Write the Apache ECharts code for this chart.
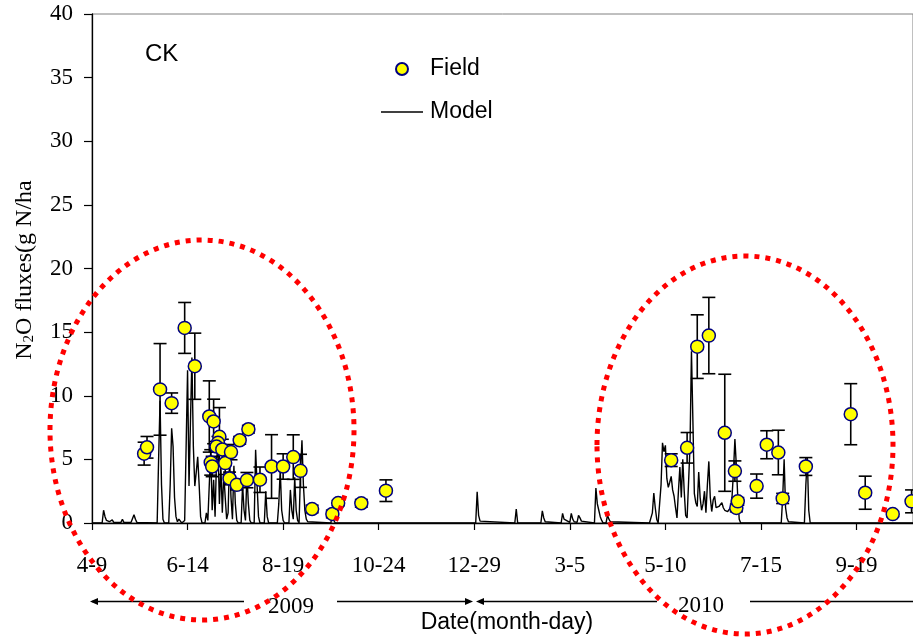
<!DOCTYPE html>
<html><head><meta charset="utf-8">
<script src="https://cdn.jsdelivr.net/npm/echarts@6/dist/echarts.min.js"></script>
<style>html,body{margin:0;padding:0;background:#fff}#c{width:913px;height:640px}</style>
</head><body><div id="c"></div>
<script>
// x axis: days since 2009-04-09, ticks every 66 days
const tickStep = 66;
const tickLabels = ['4-9','6-14','8-19','10-24','12-29','3-5','5-10','7-15','9-19'];

// Field observations (day, mean, error half-width)
const fieldDays   = [36, 38, 47, 55, 64, 71, 81, 84, 88, 87, 86, 90, 82, 83, 92, 95, 96, 100, 102, 107, 108, 116, 124, 132, 139, 144, 152, 166, 170, 186, 203,
                     400, 411, 418, 426, 437, 444, 445, 446, 459, 466, 474, 477, 493, 524, 534, 553, 566];
const fieldValues = [5.45, 5.95, 10.5, 9.42, 15.33, 12.32, 8.37, 7.98, 6.77, 6.3, 6.01, 5.78, 4.76, 4.44, 4.71, 3.5, 5.57, 3.0, 6.5, 3.37, 7.37, 3.4, 4.44, 4.44, 5.18, 4.1, 1.1, 0.71, 1.57, 1.55, 2.54,
                     4.94, 5.91, 13.86, 14.73, 7.09, 4.08, 1.18, 1.7, 2.9, 6.15, 5.54, 1.93, 4.44, 8.55, 2.38, 0.7, 1.7];
const fieldErrors = [0.9, 0.85, 3.6, 0.8, 2.0, 2.6, 2.8, 1.75, 2.3, 0.5, 0.4, 0.8, 1.0, 0.8, 0.9, 0.5, 0.6, 0.4, 0.3, 0.6, 0.3, 1.0, 2.5, 1.0, 1.75, 1.3, 0.3, 0.3, 0.2, 0.3, 0.85,
                     0.5, 1.2, 2.5, 3.0, 4.6, 0.8, 0.3, 0.3, 0.95, 1.1, 1.75, 0.4, 0.7, 2.4, 1.3, 0.2, 0.9];

// Model output vertices (day, flux)
const modelDays = [0,7,8,9,10,11,12,14,15,20,21,22,27,29,30,31,32,
  45,46,47,48,49,50,53,54,55,56,57,58,59,60,61,62,
  63,64,65,66,67,68,69,70,71,72,73,74,75,76,
  78,79,80,81,82,83,84,85,86,87,88,89,90,91,92,93,94,95,96,97,98,99,100,101,103,104,105,106,107,108,109,110,112,113,114,115,116,119,120,121,122,128,129,130,131,132,133,136,137,138,139,140,141,142,143,144,145,146,147,148,149,150,
  165,166,167,168,175,176,177,200,201,202,
  265,266,267,268,269,292,293,294,310,311,312,313,314,324,325,326,327,330,331,332,333,335,336,337,338,339,347,348,349,350,351,352,353,355,356,357,358,359,
  385,386,387,388,389,390,391,392,393,394,395,396,397,398,399,400,401,402,403,404,405,406,407,408,409,410,411,412,413,414,415,416,417,418,419,420,421,422,423,424,425,426,427,428,429,430,431,432,433,434,435,436,437,438,439,440,441,442,443,444,445,446,447,448,
  476,477,478,479,480,481,482,492,493,494,495,496,567];
const modelValues = [0,0,1.0,0.5,0.2,0.3,0.1,0.25,0.05,0.05,0.3,0.05,0.05,0.65,0.3,0.05,0,
  0,5,9.6,3,0.3,0,0,3,7.45,6,2,0.5,0.1,0.3,0.2,0,
  0,0.2,6,12.0,2.9,8,13.0,6,2.9,4,5.2,3,0.5,0,
  0,0.8,0.2,3,5.6,1,3.4,0.5,5.0,6.0,1.5,4.5,0.8,3.9,2,0.3,0.8,5.2,2,0.3,4.5,1.5,0.2,0,0,3.0,1,0.2,3.9,1.5,0.2,0,0,5.75,3,0.5,0,0,2.5,0.5,0,0,1.5,4.2,1,0.2,0,0,2.6,1,0.3,3.6,1,0.2,0,4,6.5,3,1,0.3,0.1,0,
  0,0.9,0.2,0,0,0.15,0,0,0.1,0,
  0,2.45,0.6,0.15,0,0,1.1,0,0,0.95,0.4,0.1,0,0,0.75,0.3,0.15,0.05,0.75,0.3,0.1,0.05,0.6,0.4,0.15,0,0,2.75,1.5,1.0,0.5,0.2,0,0,0.6,0.3,0.1,0,
  0,0.1,0.8,2.35,1.2,0.3,0,0,3,6.3,5.6,6.1,3.5,2.8,3.2,3.66,2.6,2.1,1.2,0.4,2.5,4.4,2.0,5.0,2.5,0.6,0.4,0.3,6,13.5,8,2.3,1.6,1.3,4.0,2.0,1.0,1.5,2.5,0.8,3,4.84,2,0.9,1.8,2.1,1.2,1.1,1.3,1.4,1.6,1.2,1.0,0.9,0.9,1.0,1.2,2,4,6.6,4.5,2,0.3,0,
  0,2,5.0,1.2,0.4,0.1,0,0,3,5.1,1,0,0];

const serif = "'Liberation Serif','Times New Roman',serif";
const sans = "'Liberation Sans',Arial,sans-serif";

const fieldData = fieldDays.map((d, i) => [d, fieldValues[i]]);
const errData = fieldDays.map((d, i) => [d, Math.max(0, fieldValues[i] - fieldErrors[i]), fieldValues[i] + fieldErrors[i]]);
const modelData = modelDays.map((d, i) => [d, modelValues[i]]);

function arrowHead(tipX, y, dir) {
  const L = 8, H = 3.5;
  return { type: 'polygon', silent: true, z: 100,
    shape: { points: [[tipX, y], [tipX + dir * L, y - H], [tipX + dir * L, y + H]] },
    style: { fill: '#000' } };
}
function hline(x1, x2, y) {
  return { type: 'line', silent: true, z: 100, shape: { x1, y1: y, x2, y2: y }, style: { stroke: '#000', lineWidth: 1.5 } };
}
const ay = 601.5;

const chart = echarts.init(document.getElementById('c'), null, { renderer: 'canvas' });
chart.setOption({
  animation: false,
  backgroundColor: '#fff',
  grid: { left: 92, right: 0, top: 14, bottom: 117, show: true, borderColor: '#808080', borderWidth: 1, outerBoundsMode: 'none' },
  legend: {
    data: [
      { name: 'Field' },
      { name: 'Model', icon: 'path://M0,0H42V1.4H0Z', itemStyle: { color: '#000', borderWidth: 0 } }
    ],
    orient: 'vertical', left: 381, top: 57, padding: 0,
    itemWidth: 42, itemHeight: 12, itemGap: 19, selectedMode: false,
    textStyle: { fontFamily: sans, fontSize: 23, color: '#000', lineHeight: 24, padding: [0, 0, 0, 2] }
  },
  xAxis: {
    type: 'value', min: 0, max: 567, interval: tickStep,
    axisLine: { show: true, onZero: false, lineStyle: { color: '#000', width: 1.3 } },
    axisTick: { show: true, inside: false, length: 7, lineStyle: { color: '#000', width: 1.2 } },
    axisLabel: { margin: 31, fontFamily: serif, fontSize: 23, color: '#000', showMaxLabel: false,
      formatter: v => (v % tickStep === 0 && tickLabels[v / tickStep] !== undefined) ? tickLabels[v / tickStep] : '' },
    splitLine: { show: false }
  },
  yAxis: {
    type: 'value', min: 0, max: 40, interval: 5,
    axisLine: { show: true, lineStyle: { color: '#000', width: 1.3 } },
    axisTick: { show: true, inside: false, length: 8, lineStyle: { color: '#000', width: 1.2 } },
    axisLabel: { margin: 19, fontFamily: serif, fontSize: 23, color: '#000' },
    splitLine: { show: false }
  },
  series: [
    { name: 'Model', type: 'line', data: modelData, symbol: 'none', showSymbol: false, z: 2,
      lineStyle: { color: '#000', width: 1.4 }, itemStyle: { color: '#000' } },
    { name: 'errorbars', type: 'custom', data: errData, z: 3,
      renderItem: function (params, api) {
        const x = api.value(0);
        const pLo = api.coord([x, api.value(1)]);
        const pHi = api.coord([x, api.value(2)]);
        const w = 6.5, st = { stroke: '#000', lineWidth: 1.6 };
        return { type: 'group', children: [
          { type: 'line', shape: { x1: pHi[0], y1: pHi[1], x2: pLo[0], y2: pLo[1] }, style: st },
          { type: 'line', shape: { x1: pHi[0] - w, y1: pHi[1], x2: pHi[0] + w, y2: pHi[1] }, style: st },
          { type: 'line', shape: { x1: pLo[0] - w, y1: pLo[1], x2: pLo[0] + w, y2: pLo[1] }, style: st }
        ] };
      } },
    { name: 'Field', type: 'scatter', data: fieldData, symbol: 'circle', symbolSize: 13, z: 4,
      itemStyle: { color: '#FFFF00', borderColor: '#000080', borderWidth: 1.5, opacity: 1 } }
  ],
  graphic: [
    { type: 'text', x: 145, y: 54, silent: true,
      style: { text: 'CK', font: '24px ' + sans, fill: '#000', textVerticalAlign: 'middle' } },
    { type: 'text', x: 25, y: 270, rotation: Math.PI / 2, silent: true,
      style: { text: '{a|N}{s|2}{a|O fluxes(g N/ha}', textAlign: 'center', textVerticalAlign: 'middle', fill: '#000',
        rich: { a: { fontFamily: serif, fontSize: 24, color: '#000' }, s: { fontFamily: serif, fontSize: 15, color: '#000', verticalAlign: 'bottom' } } } },
    { type: 'text', x: 507, y: 623, silent: true,
      style: { text: 'Date(month-day)', font: '23px ' + sans, fill: '#000', textAlign: 'center', textVerticalAlign: 'middle' } },
    { type: 'text', x: 291, y: 607, silent: true,
      style: { text: '2009', font: '23px ' + serif, fill: '#000', textAlign: 'center', textVerticalAlign: 'middle' } },
    { type: 'text', x: 701, y: 606, silent: true,
      style: { text: '2010', font: '23px ' + serif, fill: '#000', textAlign: 'center', textVerticalAlign: 'middle' } },
    hline(92, 244, ay), arrowHead(90, ay, 1),
    hline(337, 467, ay), arrowHead(473, ay, -1),
    hline(482, 657, ay), arrowHead(476, ay, 1),
    hline(750, 913, ay),
    { type: 'ellipse', silent: true, z: 200, shape: { cx: 202, cy: 430, rx: 152, ry: 190 },
      style: { fill: 'none', stroke: '#FF0000', lineWidth: 5, lineDash: [5, 6] } },
    { type: 'ellipse', silent: true, z: 200, shape: { cx: 745, cy: 445, rx: 148, ry: 189 },
      style: { fill: 'none', stroke: '#FF0000', lineWidth: 5, lineDash: [5, 6] } }
  ]
});
</script></body></html>
